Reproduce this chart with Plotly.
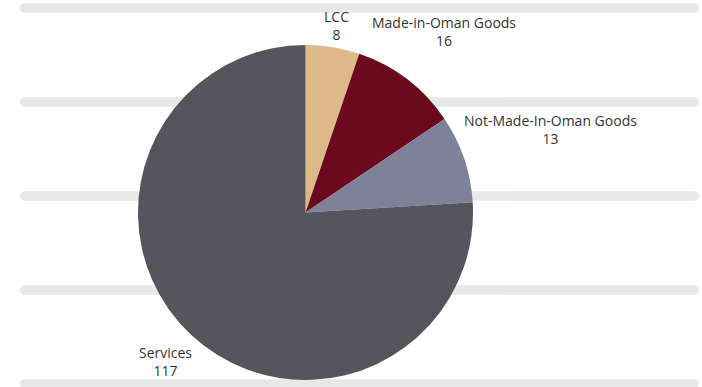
import math
import plotly.graph_objects as go

labels = ["LCC", "Made-in-Oman Goods", "Not-Made-In-Oman Goods", "Services"]
values = [8, 16, 13, 117]
colors = ["#DDB888", "#6B0A1C", "#7E8199", "#55565B"]

W, H = 702, 387
bar_centers_px = [8, 102, 196, 290, 384]
bar_x0, bar_x1, bar_h = 20, 699, 9.5

FONT = "Open Sans"
FS = 14
CHAR_W = 0.565 * FS      # approx. average glyph width
HALF_H = 17              # half height of a two-line label
GAP = 3

def rounded_bar(yc):
    r = bar_h / 2
    k = 0.5523 * r
    def px(x): return x / W
    def py(y): return 1 - y / H
    yt, yb = yc - r, yc + r
    x0, x1 = bar_x0, bar_x1
    p = (f"M {px(x0+r)},{py(yt)} L {px(x1-r)},{py(yt)} "
         f"C {px(x1-r+k)},{py(yt)} {px(x1)},{py(yc-k)} {px(x1)},{py(yc)} "
         f"C {px(x1)},{py(yc+k)} {px(x1-r+k)},{py(yb)} {px(x1-r)},{py(yb)} "
         f"L {px(x0+r)},{py(yb)} "
         f"C {px(x0+r-k)},{py(yb)} {px(x0)},{py(yc+k)} {px(x0)},{py(yc)} "
         f"C {px(x0)},{py(yc-k)} {px(x0+r-k)},{py(yt)} {px(x0+r)},{py(yt)} Z")
    return dict(type="path", path=p, xref="paper", yref="paper",
                fillcolor="#E8E8E8", line=dict(width=0), layer="below")

cx, cy, R = 305.5, 212.5, 167.5
fig = go.Figure(go.Pie(
    labels=labels, values=values, sort=False, direction="clockwise", rotation=0,
    marker=dict(colors=colors, line=dict(width=0)),
    textinfo="none",
    hoverinfo="label+value+percent",
    domain=dict(x=[(cx - R) / W, (cx + R) / W], y=[1 - (cy + R) / H, 1 - (cy - R) / H]),
    showlegend=False,
))

# outside labels centred on each slice's mid-angle ray
total = sum(values)
annotations = []
cum = 0
for lab, val in zip(labels, values):
    theta = 2 * math.pi * (cum + val / 2) / total
    cum += val
    ux, uy = math.sin(theta), -math.cos(theta)
    half_w = max(len(lab), len(str(val))) * CHAR_W / 2
    r = R + GAP + half_w * abs(ux) + HALF_H * abs(uy)
    px_, py_ = cx + r * ux, cy + r * uy
    annotations.append(dict(
        x=px_ / W, y=1 - py_ / H, xref="paper", yref="paper",
        text=f"{lab}<br>{val}", showarrow=False, align="center",
        xanchor="center", yanchor="middle",
        font=dict(family=FONT, size=FS, color="#333333"),
    ))

fig.update_layout(
    width=W, height=H, margin=dict(l=0, r=0, t=0, b=0),
    paper_bgcolor="white", plot_bgcolor="white",
    shapes=[rounded_bar(y) for y in bar_centers_px],
    annotations=annotations,
)
fig.write_html("out.html")
